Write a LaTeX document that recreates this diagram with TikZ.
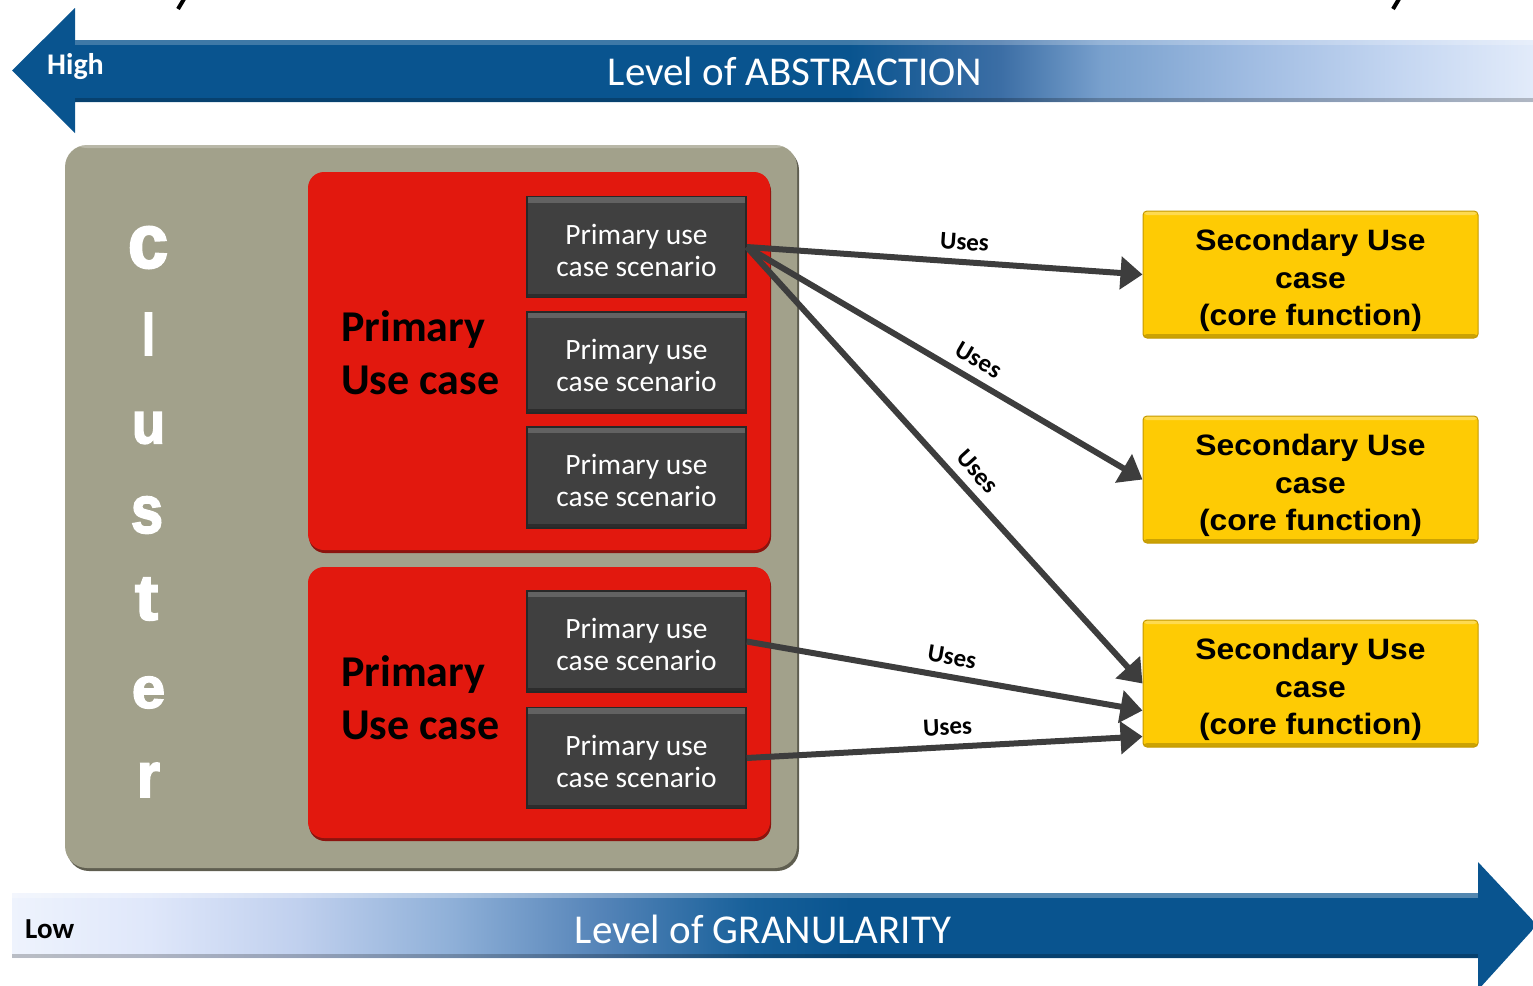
\documentclass[tikz,border=0pt]{standalone}
\usepackage{fontspec}
\setmainfont{Carlito}
\newfontfamily\secfont{Liberation Sans}[FakeStretch=1.08]
\newfontfamily\clfont{Liberation Sans}[BoldFeatures={FakeBold=3}]
\usetikzlibrary{arrows.meta,shadows}

% palette
\definecolor{abdark}{RGB}{9,84,143}
\definecolor{abm1}{RGB}{60,110,165}
\definecolor{abm2}{RGB}{120,160,205}
\definecolor{abm3}{RGB}{160,188,226}
\definecolor{abm4}{RGB}{196,214,241}
\definecolor{abpale}{RGB}{226,235,250}
\definecolor{gr0}{RGB}{238,243,253}
\definecolor{gr1}{RGB}{223,231,250}
\definecolor{gr2}{RGB}{192,208,238}
\definecolor{gr3}{RGB}{143,176,216}
\definecolor{gr4}{RGB}{85,132,184}
\definecolor{gr5}{RGB}{23,96,154}
\definecolor{clgrey}{RGB}{162,161,139}
\definecolor{clshadow}{RGB}{95,94,80}
\definecolor{ucred}{RGB}{226,24,14}
\definecolor{redshadow}{RGB}{140,20,14}
\definecolor{scenfill}{RGB}{64,64,64}
\definecolor{scenedge}{RGB}{40,40,40}
\definecolor{ucyellow}{RGB}{254,203,4}
\definecolor{yedge}{RGB}{196,152,0}
\definecolor{arrowgrey}{RGB}{61,61,61}

% horizontal fills of the two level bars
\pgfdeclarehorizontalshading{abstrshade}{100bp}{color(0bp)=(abdark); color(52.5bp)=(abdark); color(57.5bp)=(abm1); color(60.8bp)=(abm2); color(65.7bp)=(abm3); color(70.6bp)=(abm4); color(75bp)=(abpale); color(100bp)=(abpale)}
\pgfdeclarehorizontalshading{granshade}{100bp}{color(0bp)=(gr0); color(25bp)=(gr0); color(29.5bp)=(gr1); color(34.4bp)=(gr2); color(39.4bp)=(gr3); color(44.3bp)=(gr4); color(49.2bp)=(gr5); color(52.5bp)=(abdark); color(100bp)=(abdark)}

% centred block of lines with #1 of extra room above (moves it down by half of that)
\newcommand{\shiftlines}[2]{\raisebox{0pt}[\dimexpr\height+#1\relax][\depth]{\begin{tabular}{@{}c@{}}#2\end{tabular}}}

\tikzset{
  cluster/.style={rounded corners=22pt, fill=clgrey, minimum width=732pt, minimum height=723pt,
    inner sep=0pt, drop shadow={shadow xshift=2pt, shadow yshift=-3pt, fill=clshadow, opacity=1},
    path picture={\fill[white,opacity=.25] (path picture bounding box.north west) rectangle ([yshift=-3pt]path picture bounding box.north east);}},
  clletter/.style={inner sep=0pt, text=white},
  ucbox/.style={rounded corners=16pt, fill=ucred, minimum width=462pt, inner sep=0pt,
    drop shadow={shadow xshift=1pt, shadow yshift=-3pt, fill=redshadow, opacity=1}},
  uclabel/.style={anchor=west, align=left, inner sep=0pt, font=\bfseries\fontsize{44}{53}\selectfont},
  scen/.style={fill=scenfill, draw=scenedge, line width=1.5pt, minimum width=219pt, minimum height=101pt,
    inner sep=0pt, text=white, font=\fontsize{29.5}{32}\selectfont,
    path picture={\fill[white,opacity=.18] (path picture bounding box.north west) rectangle ([yshift=-6pt]path picture bounding box.north east);
      \fill[black,opacity=.3] (path picture bounding box.south west) rectangle ([yshift=4pt]path picture bounding box.south east);}},
  secbox/.style={rounded corners=4pt, fill=ucyellow, draw=yedge, line width=1pt, minimum width=335pt,
    minimum height=127pt, inner sep=0pt, font=\secfont\bfseries\fontsize{29.5}{37.5}\selectfont,
    path picture={\fill[white,opacity=.3] (path picture bounding box.north west) rectangle ([yshift=-4pt]path picture bounding box.north east);
      \fill[black,opacity=.2] (path picture bounding box.south west) rectangle ([yshift=4pt]path picture bounding box.south east);}},
  uses/.style={draw=arrowgrey, line width=6pt, -{Triangle[length=22pt, width=32pt]}},
  lbl/.style={sloped, above=5pt, inner sep=4pt, font=\bfseries\fontsize{25}{25}\selectfont}
}

\begin{document}
\begin{tikzpicture}[x=1pt, y=-1pt]
\useasboundingbox (0,0) rectangle (1533,985);
\clip (0,0) rectangle (1533,985);

% bits of a heading cut off by the top edge
\draw[line width=4pt] (178,9) -- (184,-1);
\draw[line width=4pt] (1393,9) -- (1399,-1);

% abstraction bar (points left)
\path[shading=abstrshade] (12,70.5) -- (75,8) -- (75,40) -- (1533,40) -- (1533,102) -- (75,102) -- (75,133) -- cycle;
\fill[white,opacity=.22] (75,40) rectangle (1533,45);
\fill[black,opacity=.22] (75,98) rectangle (1533,102);
\node[anchor=west, text=white, font=\bfseries\fontsize{30}{30}\selectfont, inner sep=0pt] (high) at (47,67) {High};
\node[text=white, font=\fontsize{41}{41}\selectfont, inner sep=0pt] (abstr) at (795,71) {Level of ABSTRACTION};

% granularity bar (points right)
\path[shading=granshade] (12,893) -- (1478,893) -- (1478,862) -- (1537,925) -- (1478,990) -- (1478,958) -- (12,958) -- cycle;
\fill[white,opacity=.3] (12,893) rectangle (1478,898);
\fill[black,opacity=.22] (12,954) rectangle (1478,958);
\node[anchor=west, text=black, font=\bfseries\fontsize{29}{29}\selectfont, inner sep=0pt] (low) at (25,929) {Low};
\node[text=white, font=\fontsize{41}{41}\selectfont, inner sep=0pt] (gran) at (763,929) {Level of GRANULARITY};

% cluster container
\node[cluster] (clu) at (431,506.5) {};
\node[clletter] (c1) at (148,247.5) {\resizebox{40pt}{41pt}{\clfont\bfseries c}};
\node[clletter] (c2) at (148.5,334) {\resizebox{13pt}{42pt}{\clfont\bfseries l}};
\node[clletter] (c3) at (148.5,428) {\resizebox{33pt}{31pt}{\clfont\bfseries u}};
\node[clletter] (c4) at (147,515) {\resizebox{32pt}{36pt}{\clfont\bfseries s}};
\node[clletter] (c5) at (146.5,599) {\resizebox{23pt}{42pt}{\clfont\bfseries t}};
\node[clletter] (c6) at (148.5,692.5) {\resizebox{33pt}{31pt}{\clfont\bfseries e}};
\node[clletter] (c7) at (148.5,780) {\resizebox{23pt}{34pt}{\clfont\bfseries r}};

% primary use cases
\node[ucbox, minimum height=378pt] (uc1) at (539,361) {};
\node[ucbox, minimum height=271pt] (uc2) at (539,702.5) {};
\node[uclabel] (uc1t) at (341,353) {Primary\\Use case};
\node[uclabel] (uc2t) at (341,698) {Primary\\Use case};

% scenarios
\node[scen] (s1) at (636.5,247) {\shiftlines{14pt}{Primary use\\case scenario}};
\node[scen] (s2) at (636.5,362.5) {\shiftlines{14pt}{Primary use\\case scenario}};
\node[scen] (s3) at (636.5,477.5) {\shiftlines{14pt}{Primary use\\case scenario}};
\node[scen] (s4) at (636.5,641.5) {\shiftlines{14pt}{Primary use\\case scenario}};
\node[scen] (s5) at (636.5,758) {\shiftlines{14pt}{Primary use\\case scenario}};

% secondary use cases
\node[secbox] (y1) at (1310.5,274.5) {\shiftlines{12pt}{Secondary Use\\case\\(core function)}};
\node[secbox] (y2) at (1310.5,479.5) {\shiftlines{12pt}{Secondary Use\\case\\(core function)}};
\node[secbox] (y3) at (1310.5,683.5) {\shiftlines{12pt}{Secondary Use\\case\\(core function)}};

% uses relations
\draw[uses] (s1.east) -- node[lbl, pos=.547] {Uses} (y1.west);
\draw[uses] (s1.east) -- node[lbl, pos=.56] {Uses} (y2.west);
\draw[uses] (s1.east) -- node[lbl, pos=.545] {Uses} (y3.west);
\draw[uses] (s4.east) -- node[lbl, pos=.51] {Uses} ([yshift=-27pt]y3.west);
\draw[uses] (s5.east) -- node[lbl, pos=.51] {Uses} ([yshift=-53pt]y3.west);
\end{tikzpicture}
\end{document}
